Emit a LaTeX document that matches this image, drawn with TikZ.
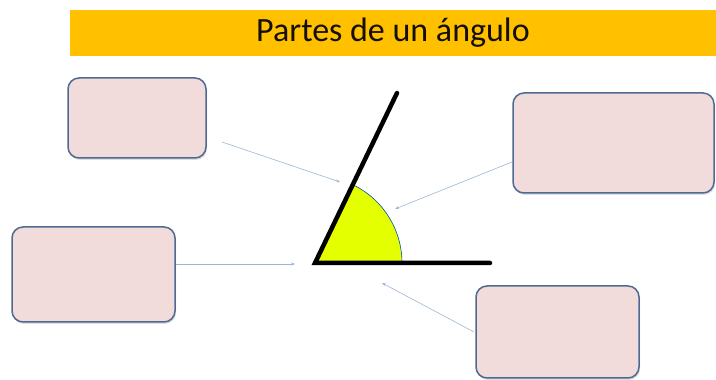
\documentclass[tikz,border=0pt]{standalone}
\usepackage{fontspec}
\setmainfont{Carlito}
\usetikzlibrary{calc,arrows.meta,shadows,positioning}
\definecolor{naranja}{HTML}{FFC000}
\definecolor{rosa}{HTML}{F2DCDB}
\definecolor{borde}{HTML}{4F6A91}
\definecolor{flecha}{HTML}{9DB6D2}
\definecolor{limon}{HTML}{E4FF00}
\tikzstyle{caja-std}=[draw=borde,line width=1.5pt,fill=rosa,rounded corners=11pt,
	drop shadow={opacity=0.25,shadow xshift=1pt,shadow yshift=-2pt},inner sep=0pt]
\tikzstyle{flecha-std}=[-{Stealth[length=4pt,width=3pt]},draw=flecha,line width=0.6pt]
\tikzstyle{lado-std}=[line width=4.5pt,line cap=round]

\begin{document}
\begin{tikzpicture}[x=1pt,y=1pt]
            \useasboundingbox (0,0) rectangle (716,380);
            % titulo
            \node[fill=naranja,minimum width=646pt,minimum height=46pt,inner sep=0pt,
               font={\fontsize{34pt}{38}\selectfont},text=black!92!naranja] (titulo) at (393,347) {Partes de un ángulo};
            %
            \node[caja-std,minimum width=138pt,minimum height=80pt] (c-lado1) at (137,262) {};
            \node[caja-std,minimum width=201pt,minimum height=100pt] (c-amplitud) at (613.5,237) {};
            \node[caja-std,minimum width=163pt,minimum height=95pt] (c-vertice) at (93.5,105.5) {};
            \node[caja-std,minimum width=163pt,minimum height=92pt] (c-lado2) at (557.5,48) {};
            %
            \coordinate (v) at (315,117);
            \coordinate (fin-h) at (490,117);
            \coordinate (fin-o) at (397,287);
            \fill[limon,draw=teal!60!blue,line width=0.6pt] (v) -- ++(87,0) arc[start angle=0,end angle=64.25,radius=87] -- cycle;
            \draw[lado-std] (fin-o) -- (v) -- (fin-h);
            %
            \coordinate (a1) at (222,238);
            \coordinate (p1) at (340,198);
            \coordinate (a2) at (512,218);
            \coordinate (p2) at (395,171);
            \coordinate (p3) at (295,116);
            \coordinate (a4) at (474,48);
            \coordinate (p4) at (382,97);
            \draw[flecha-std] (a1) -- (p1);
            \draw[flecha-std] (a2) -- (p2);
            \draw[flecha-std] (c-vertice.east |- p3) -- (p3);
            \draw[flecha-std] (a4) -- (p4);
        \end{tikzpicture}
\end{document}
